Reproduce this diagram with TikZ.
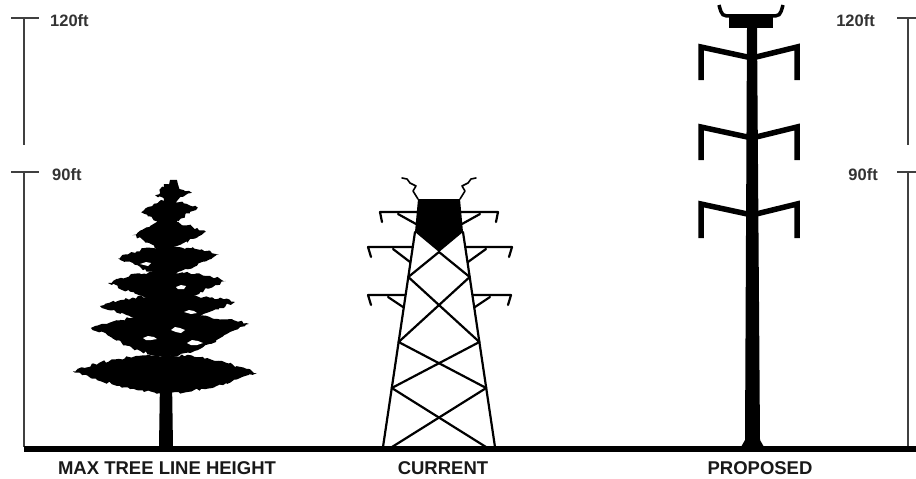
\documentclass[tikz,border=0pt]{standalone}
\usepackage{fontspec}
\setmainfont{Liberation Sans}
\usetikzlibrary{decorations.pathmorphing}

% one pine tier: top, bottom (at trunk), left tip x/y, right tip x/y
\newcommand\pinetier[6]{%
  \fill[foliage] (166,#1) .. controls (0.5*#3+83,#1-1) and (#3+9,#4-3) .. (#3,#4)
    .. controls (#3+15,#4+5) and (0.35*#3+108,#2+1) .. (166,#2)
    .. controls (0.35*#5+108,#2+1) and (#5-15,#6+5) .. (#5,#6)
    .. controls (#5-9,#6-3) and (0.5*#5+83,#1-1) .. cycle;}

\begin{document}
\begin{tikzpicture}[x=1pt,y=-1pt,
  scaleline/.style={draw=black!75,line width=1.5pt},
  ftlabel/.style={font=\bfseries\fontsize{16.5}{18}\selectfont,text=black!80,inner sep=0pt},
  caption/.style={font=\bfseries\fontsize{18.5}{20}\selectfont,text=black!90,inner sep=0pt},
  foliage/.style={black,decorate,decoration={random steps,segment length=3pt,amplitude=1.5pt}},
  lattice/.style={draw=black,line width=2.2pt,line cap=round,line join=round},
  polearm/.style={draw=black,line width=5.5pt,line join=miter},
]
\pgfmathsetseed{11}
\useasboundingbox (0,0) rectangle (916,479);
\fill[white] (0,0) rectangle (916,479);

% ---- height scales ----
\draw[scaleline] (24,18) -- (24,145);
\draw[scaleline] (11,18) -- (39,18);
\draw[scaleline] (11,172) -- (39,172);
\draw[scaleline] (24,172) -- (24,447);
\draw[scaleline] (908,18) -- (908,145);
\draw[scaleline] (897,18) -- (918,18);
\draw[scaleline] (897,172) -- (918,172);
\draw[scaleline] (908,172) -- (908,447);
\node[ftlabel,anchor=west] (l120) at (50,21) {120ft};
\node[ftlabel,anchor=west] (l90) at (52,175) {90ft};
\node[ftlabel,anchor=east] (r120) at (875,21) {120ft};
\node[ftlabel,anchor=east] (r90) at (878,175) {90ft};

% ---- ground ----
\draw[line width=6pt] (24,449) -- (916,449);

% ---- pine tree ----
\fill (160,380) -- (172,380) -- (173,447) -- (159,447) -- cycle;
\fill (164,184) -- (168,184) -- (171,390) -- (161,390) -- cycle;
\fill[foliage] (170,180) -- (177,180) -- (182,194) -- (162,194) -- cycle;
\pinetier{187}{203}{155}{195}{192}{193}
\pinetier{201}{226}{141}{212}{198}{208}
\pinetier{223}{249}{132}{235}{206}{232}
\pinetier{247}{274}{118}{258}{219}{255}
\pinetier{272}{300}{108}{283}{226}{281}
\pinetier{296}{324}{100}{306}{235}{302}
\pinetier{316}{356}{91}{328}{249}{324}
\pinetier{355}{393}{73}{371}{257}{373}
% gaps in the foliage
\fill[white] (171,330) -- (175,327) -- (180,328) -- (185,330) -- (181,333) -- (176,332) -- cycle;
\fill[white] (187,343) -- (192,340) -- (198,341) -- (203,343) -- (197,345) -- (191,345) -- cycle;
\fill[white] (143,338) -- (148,336) -- (154,337) -- (157,339) -- (151,340) -- (146,340) -- cycle;
\fill[white] (184,312) -- (189,310) -- (194,311) -- (197,313) -- (191,314) -- cycle;
\fill[white] (176,287) -- (181,285) -- (186,286) -- (184,289) -- (178,289) -- cycle;
\fill[white] (140,264) -- (146,262) -- (151,263) -- (148,266) -- cycle;

% ---- current lattice tower ----
\draw[lattice] (383,447) -- (415,232);
\draw[lattice] (495,447) -- (463,232);
\coordinate (L1) at (408.3,277); \coordinate (R1) at (469.7,277);
\coordinate (L2) at (398.6,342); \coordinate (R2) at (479.4,342);
\coordinate (L3) at (391.8,388); \coordinate (R3) at (486.2,388);
\coordinate (hb) at (439,252);
\draw[lattice] (L1) -- (hb) -- (R1);
\draw[lattice] (L1) -- (R2) -- (L3) -- (486,447);
\draw[lattice] (R1) -- (L2) -- (R3) -- (392,447);
\fill (418,199) -- (460,199) -- (463,232) -- (hb) -- (415,232) -- cycle;
% insulators on top
\draw[lattice,line width=1.6pt] (418,199) -- (413,191) -- (416,186) -- (410,183) -- (407,179) -- (402,178);
\draw[lattice,line width=1.6pt] (460,199) -- (465,191) -- (462,186) -- (468,183) -- (471,179) -- (476,178);
% cross arms
\draw[lattice] (382,222) -- (380,212) -- (418,212);
\draw[lattice] (398,214) -- (416,224);
\draw[lattice] (496,222) -- (498,212) -- (460,212);
\draw[lattice] (480,214) -- (462,224);
\draw[lattice] (371,257) -- (368,247) -- (412,247);
\draw[lattice] (393,249) -- (410,262);
\draw[lattice] (509,257) -- (512,247) -- (466,247);
\draw[lattice] (486,249) -- (468,262);
\draw[lattice] (371,305) -- (368,295) -- (405,295);
\draw[lattice] (388,297) -- (403,307);
\draw[lattice] (508,305) -- (511,295) -- (473,295);
\draw[lattice] (490,297) -- (475,307);

% ---- proposed monopole ----
\fill (747,28) -- (757,28) -- (760,440) -- (764,447) -- (741,447) -- (745,440) -- cycle;
\fill (729,14) rectangle (773,28);
\draw[line width=3.5pt] (732,16) .. controls (722,16) .. (719,5);
\draw[line width=3.5pt] (770,16) .. controls (780,16) .. (783,5);
\draw[polearm] (752,58) -- (701,47) -- (701,80);
\draw[polearm] (752,58) -- (797,47) -- (797,80);
\draw[polearm] (752,138) -- (701,127) -- (701,160);
\draw[polearm] (752,138) -- (797,127) -- (797,160);
\draw[polearm] (752,215) -- (701,204) -- (701,238);
\draw[polearm] (752,215) -- (797,204) -- (797,238);

% ---- captions ----
\node[caption] (ctree) at (167,468.5) {MAX TREE LINE HEIGHT};
\node[caption] (ccur) at (443,468.5) {CURRENT};
\node[caption] (cprop) at (760,468.5) {PROPOSED};
\end{tikzpicture}
\end{document}
